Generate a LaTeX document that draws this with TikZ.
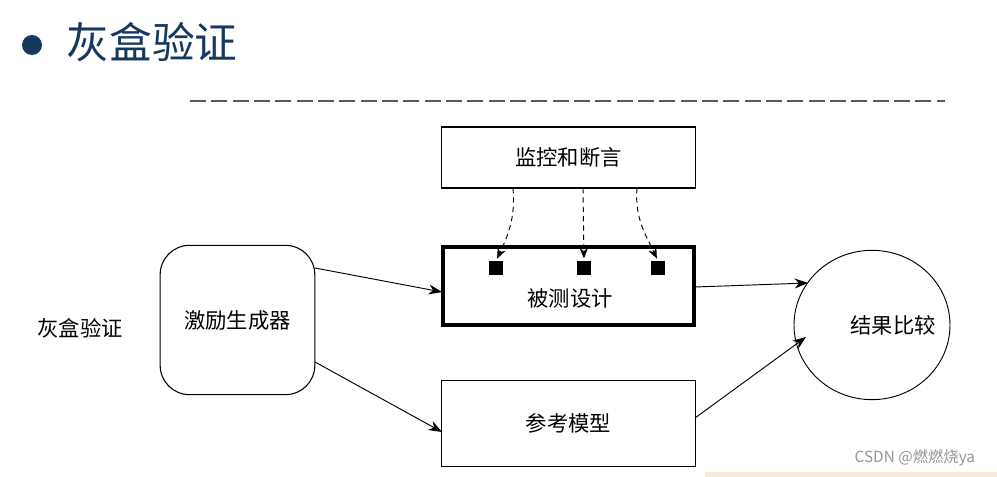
\documentclass[tikz,border=0pt]{standalone}
\usepackage{fontspec}
\newfontfamily\cjk{Noto Sans CJK SC}
\usetikzlibrary{shapes.geometric,arrows.meta}
\definecolor{navy}{RGB}{23,55,94}
\definecolor{wmgray}{RGB}{150,150,150}
\definecolor{beige}{RGB}{246,236,214}

\begin{document}
\begin{tikzpicture}[x=0.75pt,y=-0.75pt,
        box/.style={draw,line width=0.8pt,minimum width=190pt,inner sep=0pt},
        txt/.style={font=\cjk\fontsize{16}{18}\selectfont},
        flow/.style={line width=0.7pt,-{Stealth[length=10pt,width=7.5pt]}},
        probe/.style={dashed,line width=0.7pt,dash pattern=on 4pt off 3pt,-{Stealth[length=8pt,width=6.5pt]}},
        sq/.style={fill=black,minimum size=10pt,inner sep=0pt}]
        % page is 997 x 477 px, one unit = one px
        \useasboundingbox (0,0) rectangle (997,477);

        % title
        \fill[navy] (32,45) circle (10);
        \node[anchor=west,text=navy,font=\cjk\fontsize{32}{34}\selectfont] (title) at (62,42) {灰盒验证};
        \draw[gray!70!black,line width=2.2pt,dash pattern=on 12pt off 4pt] (190,101) -- (945,101);

        % blocks
        \node[box,minimum height=45.75pt,txt] (mon) at (568.5,157.5) {监控和断言};
        \node[box,line width=3pt,minimum width=188pt,minimum height=59pt] (dut) at (568.5,286) {};
        \node[txt] (dutlbl) at (570,298) {被测设计};
        \node[box,minimum height=65pt,txt] (ref) at (568.5,423.5) {参考模型};
        \node[draw,line width=0.8pt,rounded corners=22pt,minimum width=116pt,minimum height=112pt,txt] (stim) at (237.5,320) {激励生成器};
        \node[draw,ellipse,line width=0.7pt,minimum width=117pt,minimum height=112pt,inner sep=0pt] (cmp) at (872,325) {};
        \node[txt] (cmplbl) at (893,325) {结果比较};
        \node[txt] (side) at (80,328) {灰盒验证};

        % probe points
        \node[sq] (sq1) at (496,268) {};
        \node[sq] (sq2) at (584,268) {};
        \node[sq] (sq3) at (658,268) {};

        % dashed probes
        \coordinate (m1) at (513,188);
        \coordinate (m2) at (583,188);
        \coordinate (m3) at (637,188);
        \draw[probe,shorten >=2pt] (m1) to[out=-85,in=65] (sq1.north);
        \draw[probe,shorten >=2pt] (m2) -- (sq2.north);
        \draw[probe,shorten >=2pt] (m3) to[out=-95,in=115] (sq3.north);

        % data flow
        \coordinate (s1) at (315,268);
        \coordinate (s2) at (315,362);
        \coordinate (d1) at (442,292);
        \coordinate (r1) at (442,432);
        \coordinate (d2) at (695,287);
        \coordinate (r2) at (695,418);
        \coordinate (c1) at (808,283);
        \coordinate (c2) at (806,337);
        \draw[flow] (s1) -- (d1);
        \draw[flow] (s2) -- (r1);
        \draw[flow] (d2) -- (c1);
        \draw[flow] (r2) -- (c2);

        % watermark
        \fill[beige] (705,472) rectangle (997,477);
        \node[anchor=west,text=wmgray,font=\cjk\fontsize{11.5}{13}\selectfont] (wm) at (850,458) {CSDN @燃燃烧ya};
    \end{tikzpicture}
\end{document}
